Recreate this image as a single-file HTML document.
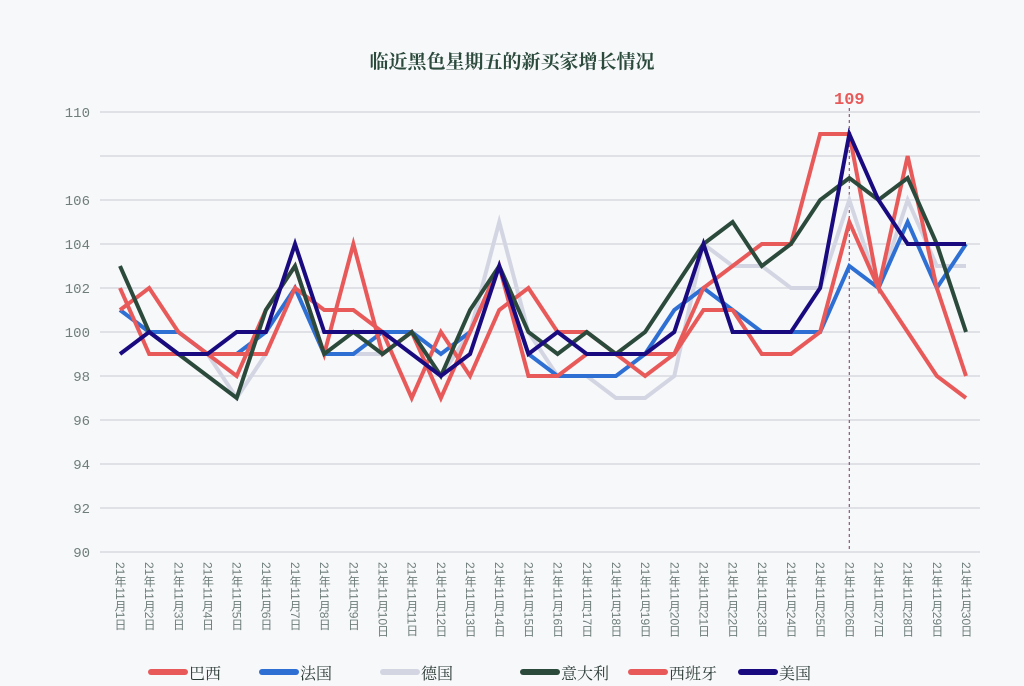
<!DOCTYPE html>
<html><head><meta charset="utf-8"><style>
body{margin:0;background:#fff;}
#wrap{position:relative;width:1024px;height:686px;background:#f7f8fa;overflow:hidden;font-family:"Liberation Sans","Noto Sans CJK SC",sans-serif;}
.xl{position:absolute;top:562px;writing-mode:vertical-rl;text-orientation:mixed;font-size:12px;color:#6f7d7b;line-height:14px;transform:translateX(-7px);}
</style></head><body>
<div id="wrap">
<svg id="svg" width="1024" height="686" style="position:absolute;left:0;top:0">
<text x="512" y="68" text-anchor="middle" font-size="19" font-weight="bold" fill="#2b4a3c" font-family="Noto Serif CJK SC, serif">临近黑色星期五的新买家增长情况</text>
<g id="grid"></g><g id="lines"></g><g id="legend"></g>
</svg>
<div id="xlabels"></div>
</div>
<script>
const days=[];for(let i=1;i<=30;i++)days.push(i);
const yTicks=[90,92,94,96,98,100,102,104,106,108,110];
const yTickLabels=["90","92","94","96","98","100","102","104","106","","110"];
const names=["巴西","法国","德国","意大利","西班牙","美国"];
const colors=["#e85a5a","#2e6fd4","#d3d5e3","#2b4a3c","#e85a5a","#1a0a80"];
const brazil=[102,99,99,99,98,101,103,99,104,99,100,97,100,103,98,98,99,99,98,99,102,103,104,104,109,109,102,100,98,97];
const france=[101,100,100,99,99,100,102,99,99,100,100,99,100,103,99,98,98,98,99,101,102,101,100,100,100,103,102,105,102,104];
const germany=[101,100,99,99,97,99,102,99,99,99,100,98,100,105,100,98,98,97,97,98,104,103,103,102,102,106,102,106,103,103];
const italy=[103,100,99,98,97,101,103,99,100,99,100,98,101,103,100,99,100,99,100,102,104,105,103,104,106,107,106,107,104,100];
const spain=[101,102,100,99,99,99,102,101,101,100,97,100,98,101,102,100,100,99,99,99,101,101,99,99,100,105,102,108,102,98];
const usa=[99,100,99,99,100,100,104,100,100,100,99,98,99,103,99,100,99,99,99,100,104,100,100,100,102,109,106,104,104,104];
const series=[brazil,france,germany,italy,spain,usa];
const markDay=26, markLabel="109";
const X=d=>120+(d-1)*(966-120)/29;
const Y=v=>552-(v-90)*22;
const NS="http://www.w3.org/2000/svg";
function mk(t,a,p){const e=document.createElementNS(NS,t);for(const k in a)e.setAttribute(k,a[k]);p.appendChild(e);return e;}
const grid=document.getElementById('grid');
yTicks.forEach((t,i)=>{
 const l=mk('line',{x1:100,x2:980,y1:Y(t),y2:Y(t),stroke:'#d7d9e0','stroke-width':1.5},grid);
 
 
 const tx=mk('text',{x:90,y:Y(t)+5,'text-anchor':'end','font-size':14,fill:'#6f7d7b','font-family':'Liberation Mono, monospace'},grid);
 tx.textContent=yTickLabels[i];
 
 
});
const ml=mk('line',{x1:X(markDay),x2:X(markDay),y1:108,y2:552,stroke:'#8a5a7a','stroke-width':1.2,'stroke-dasharray':'3,3'},grid);


const mt=mk('text',{x:X(markDay),y:104,'text-anchor':'middle','font-size':17,'font-weight':'bold',fill:'#e85a5a','font-family':'Liberation Mono, monospace'},grid);
mt.textContent=markLabel;


const lines=document.getElementById('lines');
const order=[2,1,4,0,3,5];
order.forEach(s=>{
 const p=mk('polyline',{points:series[s].map((v,i)=>X(days[i])+','+Y(v)).join(' '),fill:'none',stroke:colors[s],'stroke-width':4,'stroke-linejoin':'miter'},lines);
 
 
});
const lg=document.getElementById('legend');
const lx=[148,259,380,520,628,738];
names.forEach((n,i)=>{
 const r=mk('rect',{x:lx[i],y:669,width:40,height:6,rx:3,fill:colors[i]},lg);
 
 
 const t=mk('text',{x:lx[i]+41,y:679,'font-size':16,fill:'#2b3a35','font-family':'Noto Serif CJK SC, serif'},lg);
 t.textContent=n;
 
 
});
const xl=document.getElementById('xlabels');
days.forEach(d=>{
 const e=document.createElement('div');
 e.className='xl';e.style.left=X(d)+'px';
 e.textContent='21年11月'+d+'日';
 
 
 xl.appendChild(e);
});
</script>
</body></html>
